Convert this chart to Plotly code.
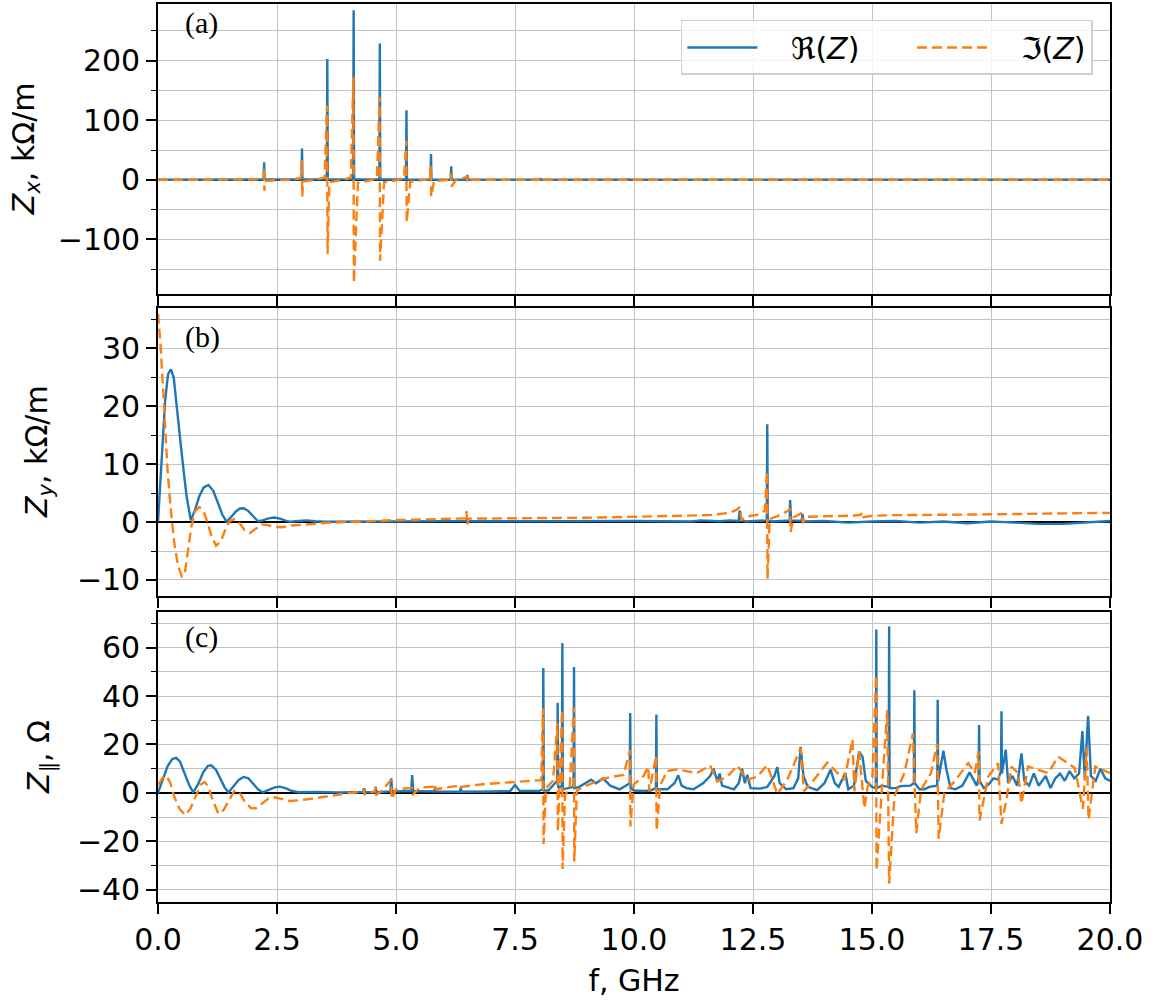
import plotly.graph_objects as go

# ---------------- data (f in GHz, value) ----------------
# Panel (a): Z_x, kOhm/m
re_a = [(0, 0), (2.22, 0.5), (2.23, 29.5), (2.24, 0.5), (3.015, 0.5), (3.025, 52.4), (3.035, 0.5),
        (3.547, 0.8), (3.557, 202.6), (3.567, 0.8), (4.10, 1.0), (4.11, 284.7), (4.12, 1.0),
        (4.65, 0.8), (4.66, 228.8), (4.67, 0.8), (5.21, 0.5), (5.22, 116.6), (5.23, 0.5),
        (5.725, 0.3), (5.735, 43.5), (5.745, 0.3), (6.15, 0.2), (6.16, 22.8), (6.17, 0.2),
        (6.45, 0.2), (6.46, 4.0), (6.47, 0.2), (6.49, 0.2), (6.50, 8.4), (6.51, 0.2),
        (8.02, 0.1), (8.03, 3.0), (8.04, 0.1), (9.85, 0), (9.86, 2.5), (9.87, 0),
        (10.35, 0), (10.36, 2.0), (10.37, 0), (20, 0)]
im_a = [(0, 0), (2.0, 0.5), (2.215, 2), (2.225, 21), (2.235, -18.4), (2.25, -2), (2.5, -0.5), (2.8, 0.5),
        (3.0, 3), (3.02, 33), (3.03, -28), (3.05, -3), (3.3, 0), (3.5, 4), (3.552, 124.5), (3.562, -124.6),
        (3.6, -4), (3.9, 0), (4.05, 4), (4.105, 173), (4.115, -173), (4.2, -5), (4.45, -1), (4.6, 3),
        (4.655, 139.5), (4.665, -135.7), (4.75, -4), (5.0, -1), (5.17, 3), (5.215, 65.3), (5.225, -71),
        (5.3, -3), (5.6, 0), (5.72, 2), (5.73, 23.4), (5.74, -28), (5.8, -2), (6.1, 0), (6.155, 11),
        (6.165, -11.2), (6.25, -1), (6.45, 3), (6.495, 5), (6.505, -5), (6.6, 0), (8.0, 0), (8.025, 2),
        (8.035, -2), (8.1, 0), (20, 0)]

# Panel (b): Z_y, kOhm/m
re_b = [(0, 0), (0.08, 12), (0.15, 21), (0.21, 25.5), (0.27, 26.4), (0.33, 25), (0.40, 20), (0.47, 14),
        (0.53, 9.5), (0.60, 4.5), (0.69, 0.3), (0.78, 2.2), (0.87, 4.5), (0.96, 6.0), (1.06, 6.4),
        (1.16, 5.4), (1.26, 3.3), (1.35, 1.3), (1.44, 0.1), (1.53, 0.8), (1.63, 1.8), (1.72, 2.35),
        (1.80, 2.4), (1.90, 1.9), (2.0, 1.0), (2.1, 0.15), (2.2, 0.3), (2.32, 0.65), (2.44, 0.8),
        (2.56, 0.6), (2.68, 0.25), (2.78, 0.05), (2.95, 0.2), (3.12, 0.3), (3.3, 0.15), (3.5, 0.05),
        (5.0, 0.1), (6.0, 0.15), (6.48, 0.2), (6.49, 0.8), (6.5, 0.15), (8.0, 0.15), (10.0, 0.2),
        (11.2, 0.1), (11.4, 0.3), (11.8, 0.15), (12.0, 0.3), (12.2, 0.2), (12.22, 2.0), (12.26, 0.3),
        (12.35, 0.1), (12.79, 0.3), (12.80, 16.9), (12.81, 0.3), (12.9, 0.1), (13.27, 0.3), (13.28, 3.8),
        (13.30, 0.3), (13.52, 0.2), (13.54, 1.4), (13.56, 0.1), (14.0, 0.2), (14.5, -0.1), (15.0, 0.1),
        (15.5, 0.2), (16.0, -0.1), (16.5, 0.1), (17.0, -0.2), (17.5, 0.1), (17.8, 0.0), (18.5, -0.3),
        (19.0, -0.3), (19.5, -0.1), (20, 0.2)]
im_b = [(0, 36), (0.05, 31), (0.1, 24), (0.15, 16), (0.2, 9), (0.27, 2), (0.34, -3.5), (0.42, -7.5),
        (0.5, -9.4), (0.56, -9.0), (0.62, -5.5), (0.7, -0.8), (0.78, 1.9), (0.87, 2.6), (0.95, 2.0),
        (1.03, 0.2), (1.12, -2.3), (1.22, -4.1), (1.32, -3.3), (1.42, -1.2), (1.5, 0.1), (1.6, 0.5),
        (1.7, 0.0), (1.82, -1.4), (1.93, -1.9), (2.05, -1.2), (2.18, -0.4), (2.3, -0.5), (2.45, -0.85),
        (2.6, -0.9), (2.8, -0.6), (3.2, -0.35), (3.6, -0.1), (4.0, 0), (4.5, 0.2), (5.0, 0.35),
        (5.5, 0.45), (6.0, 0.55), (6.46, 0.65), (6.48, 1.9), (6.5, -0.4), (6.52, 0.6), (7.0, 0.6),
        (8.0, 0.7), (9.0, 0.75), (10.0, 0.9), (10.5, 0.95), (11.0, 1.0), (11.6, 1.2), (12.0, 1.6),
        (12.15, 2.1), (12.22, 2.6), (12.26, 0.4), (12.4, 1.0), (12.6, 1.3), (12.75, 2.0), (12.795, 8.8),
        (12.805, -9.8), (12.85, 0.5), (13.0, 1.0), (13.25, 2.0), (13.275, 2.3), (13.29, -1.7), (13.35, 0.8),
        (13.5, 1.4), (13.53, 1.6), (13.55, -0.2), (13.6, 0.9), (14.0, 1.0), (14.6, 1.1), (14.77, 1.3),
        (14.78, 1.6), (14.79, 0.8), (15.0, 1.1), (15.5, 1.2), (16.0, 1.2), (16.5, 1.3), (17.0, 1.3),
        (17.5, 1.35), (18.0, 1.4), (18.5, 1.5), (19.0, 1.5), (19.5, 1.55), (20.0, 1.6)]

# Panel (c): Z_parallel, Ohm
re_c = [(0, 0), (0.1, 5.5), (0.2, 11), (0.3, 14), (0.38, 14.5), (0.46, 13), (0.55, 8.5), (0.65, 3.5),
        (0.74, 0.2), (0.84, 3.5), (0.95, 8.5), (1.05, 11.2), (1.12, 11.4), (1.22, 9.5), (1.32, 5.5),
        (1.40, 2.3), (1.48, 0.2), (1.58, 2.6), (1.7, 5.5), (1.8, 6.6), (1.9, 6.0), (2.0, 3.8), (2.1, 1.5),
        (2.2, 0.2), (2.32, 1.2), (2.45, 2.3), (2.56, 2.6), (2.68, 2.0), (2.8, 0.9), (2.95, 0.3), (3.3, 0.4),
        (3.8, 0.2), (4.3, 0.4), (4.33, 1.9), (4.36, 0.3), (4.55, 0.4), (4.57, 2.5), (4.59, 0.3), (4.88, 0.6),
        (4.9, 6.0), (4.92, 0.6), (5.32, 0.8), (5.34, 7.4), (5.36, 0.8), (5.8, 0.6), (5.82, 2.5), (5.84, 0.6),
        (6.34, 0.5), (6.36, 2.0), (6.38, 0.5), (7.0, 0.6), (7.4, 0.8), (7.5, 3.3), (7.6, 0.8), (8.0, 0.8),
        (8.085, 1.5), (8.095, 51.6), (8.105, 1.0), (8.2, 1.0), (8.3, 3), (8.387, 5), (8.397, 37.2),
        (8.407, 2), (8.485, 3), (8.495, 61.9), (8.505, 1.5), (8.6, 2), (8.73, 2.5), (8.74, 52), (8.75, 2),
        (8.85, 2.5), (9.0, 4.5), (9.1, 5.5), (9.2, 4), (9.35, 6), (9.5, 3), (9.7, 1.5), (9.91, 4),
        (9.92, 33), (9.93, 2), (10.0, 1), (10.2, 0.8), (10.35, 1), (10.46, 2), (10.47, 32.4), (10.48, 1.5),
        (10.7, 1.5), (10.85, 4), (10.93, 7.3), (11.0, 3), (11.1, 2), (11.25, 1.5), (11.45, 4), (11.6, 7),
        (11.67, 10), (11.75, 5), (11.8, 8), (11.85, 3), (11.95, 2.5), (12.1, 1.5), (12.2, 4), (12.27, 10),
        (12.33, 4), (12.38, 7.5), (12.45, 2), (12.65, 1.8), (12.8, 2.5), (12.95, 7), (13.01, 10.7),
        (13.06, 4), (13.2, 1.5), (13.35, 2), (13.45, 6), (13.5, 19), (13.56, 7), (13.65, 2.5), (13.85, 1.2),
        (14.0, 4), (14.13, 9.6), (14.22, 4), (14.3, 2.5), (14.44, 8.2), (14.5, 1.5), (14.62, 3),
        (14.73, 17), (14.8, 15), (14.87, 5), (15.0, 2.5), (15.08, 2), (15.09, 67.4), (15.1, 2), (15.2, 3),
        (15.35, 2.5), (15.36, 68.7), (15.37, 2), (15.5, 2), (15.6, 2.8), (15.8, 3), (15.88, 4),
        (15.89, 42.4), (15.9, 4), (16.0, 1.5), (16.1, 1.5), (16.2, 2.5), (16.37, 3), (16.38, 38.5),
        (16.39, 5), (16.45, 12), (16.5, 17.4), (16.56, 10), (16.65, 2), (16.75, 1.5), (16.9, 3),
        (17.05, 8.5), (17.12, 6), (17.2, 3), (17.24, 6), (17.25, 28), (17.26, 5), (17.35, 2), (17.45, 3.5),
        (17.55, 6), (17.65, 5.5), (17.71, 9), (17.72, 33.7), (17.73, 8), (17.81, 17.8), (17.86, 4),
        (17.95, 7), (18.05, 3), (18.14, 16.3), (18.2, 5), (18.3, 3), (18.4, 8), (18.5, 3), (18.65, 7),
        (18.75, 2), (18.85, 6), (18.95, 8), (19.05, 5), (19.15, 9), (19.25, 6), (19.35, 8), (19.42, 25.5),
        (19.47, 6), (19.54, 31.8), (19.6, 7), (19.7, 5), (19.8, 10), (19.9, 6), (20.0, 5)]
im_c = [(0, 3.3), (0.1, 6.3), (0.18, 7.0), (0.26, 4), (0.34, -1.5), (0.45, -6.5), (0.57, -9.1),
        (0.68, -6.5), (0.8, -1), (0.9, 3.5), (0.98, 4.5), (1.06, 2.5), (1.15, -3), (1.27, -8.6),
        (1.38, -7), (1.5, -2.5), (1.6, 0.8), (1.7, 0.5), (1.82, -3.5), (1.95, -6.2), (2.05, -6.3),
        (2.18, -4.5), (2.32, -2.2), (2.45, -1.8), (2.6, -2.6), (2.77, -3.3), (3.0, -3.0), (3.32, -2.2),
        (3.7, -1.0), (4.02, 0), (4.32, 0.5), (4.33, 1.5), (4.34, -0.5), (4.56, 0.8), (4.57, 2.5),
        (4.58, -1), (4.72, 1.2), (4.89, 5.3), (4.91, -2.6), (5.0, 1.5), (5.33, 2.0), (5.35, -0.8),
        (5.5, 2.2), (5.77, 2.6), (5.81, 3.8), (5.83, 1.5), (6.3, 3.0), (6.35, 3.5), (6.37, 2.5),
        (6.82, 3.6), (7.2, 4.2), (7.52, 4.7), (7.8, 5.0), (8.05, 5.3), (8.09, 34.8), (8.10, -21.1),
        (8.15, 2), (8.3, 5), (8.39, 28.9), (8.40, -15.9), (8.44, 5), (8.49, 34.2), (8.50, -31.4),
        (8.55, -1), (8.65, 2.5), (8.735, 35.3), (8.745, -28.3), (8.8, 1), (9.0, 3), (9.29, 5.4),
        (9.5, 6.5), (9.78, 7.4), (9.915, 17.7), (9.925, -13.8), (9.99, 3.4), (10.2, 7), (10.30, 10.9),
        (10.32, 0.7), (10.465, 15.4), (10.475, -15.5), (10.55, 3), (10.69, 9.0), (10.90, 9.7),
        (11.11, 9.0), (11.32, 8.2), (11.60, 11.3), (11.75, 4.7), (11.96, 6.7), (12.17, 11.3),
        (12.38, 5.4), (12.59, 6.7), (12.80, 11.5), (13.01, -0.4), (13.22, 5.4), (13.50, 18.4),
        (13.57, 0.7), (13.78, 5.4), (14.06, 12.5), (14.28, 8.2), (14.42, 5.4), (14.59, 22.1),
        (14.63, 0.7), (14.73, 17.1), (14.84, -6.3), (14.91, 2.6), (15.01, 6.7), (15.085, 48.6),
        (15.095, -32), (15.22, 5.4), (15.32, 34.2), (15.36, -37.4), (15.47, -1.4), (15.68, 8.2),
        (15.86, 24.5), (15.93, -16.6), (16.03, 1.3), (16.24, 8.2), (16.37, 20.4), (16.40, -18.9),
        (16.52, 0), (16.73, 4.7), (17.02, 12.3), (17.16, 8.2), (17.24, 17.1), (17.26, -11.4),
        (17.44, 6.7), (17.65, 12.3), (17.72, -12.8), (17.82, -3.4), (17.93, 10.9), (18.07, 8.2),
        (18.14, -4.4), (18.28, 10.9), (18.49, 9.7), (18.70, 8.2), (18.91, 15.0), (19.12, 12.3),
        (19.26, 10.3), (19.43, -6.6), (19.51, 18.4), (19.55, -11.0), (19.69, 10.9), (19.83, 9.7),
        (20.0, 8.2)]

x_ticks = [0, 2.5, 5, 7.5, 10, 12.5, 15, 17.5, 20]
x_ticktext = ["0.0", "2.5", "5.0", "7.5", "10.0", "12.5", "15.0", "17.5", "20.0"]
panel_labels = ["(a)", "(b)", "(c)"]
y_titles = ["<i>Z<sub>x</sub></i>, kΩ/m", "<i>Z<sub>y</sub></i>, kΩ/m", "<i>Z</i><sub>∥</sub>, Ω"]
legend_names = ["ℜ(<i>Z</i>)", "ℑ(<i>Z</i>)"]

# ---------------- figure ----------------
BLUE = "#1f77b4"
ORANGE = "#ff7f0e"
FONT = "DejaVu Sans"
GRID = "#c4c4c4"
LEAD = "\u00a0" * 3   # gap between legend line sample and its text
PAD = "\u00a0" * 5    # spacing between legend entries
W, HGT = 1166, 1003
L, R = 158, 56

fig = go.Figure()
panels = [(re_a, im_a), (re_b, im_b), (re_c, im_c)]
for i, (re, im) in enumerate(panels):
    sfx = "" if i == 0 else str(i + 1)
    fig.add_trace(go.Scatter(x=[p[0] for p in re], y=[p[1] for p in re], mode="lines",
                             line=dict(color=BLUE, width=2.4), name=LEAD + legend_names[0] + PAD,
                             showlegend=(i == 0), xaxis="x" + sfx, yaxis="y" + sfx))
    fig.add_trace(go.Scatter(x=[p[0] for p in im], y=[p[1] for p in im], mode="lines",
                             line=dict(color=ORANGE, width=2.4, dash="10px,5px"),
                             name=LEAD + legend_names[1],
                             showlegend=(i == 0), xaxis="x" + sfx, yaxis="y" + sfx))

H_TOP, H_BOT = 2, 902.3
HH = H_BOT - H_TOP
def dom(t, b):
    return [(H_BOT - b) / HH, (H_BOT - t) / HH]

panel_px = [(2, 293), (306.7, 595.7), (611.7, 902.3)]
y_domains = [dom(t, b) for t, b in panel_px]
y_ranges = [[-192, 295], [-12.8, 37], [-45, 74.6]]
y_dticks = [100, 10, 20]
title_cx = [25, 38, 40]  # pixel x of the rotated y-title centres

common_axis = dict(showline=True, linecolor="black", linewidth=1.6, mirror=True,
                   ticks="outside", ticklen=10, tickwidth=1.5, tickcolor="black",
                   showgrid=True, gridcolor=GRID, gridwidth=1,
                   tickfont=dict(family=FONT, size=30, color="black"))

layout = dict(width=W, height=HGT, plot_bgcolor="white", paper_bgcolor="white",
              margin=dict(l=L, r=R, t=2, b=101), showlegend=True,
              font=dict(family=FONT, size=30, color="black"))
for i in range(3):
    sfx = "" if i == 0 else str(i + 1)
    layout["xaxis" + sfx] = dict(common_axis, range=[0, 20], tickvals=x_ticks, ticktext=x_ticktext,
                                 showticklabels=(i == 2), anchor="y" + sfx, zeroline=False,
                                 **({} if i == 0 else {"matches": "x"}))
    layout["yaxis" + sfx] = dict(common_axis, range=y_ranges[i], domain=y_domains[i], anchor="x" + sfx,
                                 dtick=y_dticks[i], tick0=0,
                                 zeroline=True, zerolinecolor="black", zerolinewidth=1.6,
                                 minor=dict(dtick=y_dticks[i] / 2, tick0=0, ticks="outside", ticklen=5,
                                            tickwidth=1.2, tickcolor="black", showgrid=True,
                                            gridcolor=GRID, gridwidth=1))
layout["xaxis3"]["title"] = dict(text="f, GHz", font=dict(family=FONT, size=30), standoff=14)

fig.update_layout(**layout)

fig.update_layout(legend=dict(orientation="h", x=0.982, y=(H_BOT - 18) / HH,
                              xanchor="right", yanchor="top",
                              bgcolor="rgba(255,255,255,0.8)", bordercolor="#d0d0d0", borderwidth=1.5,
                              font=dict(family=FONT, size=30), itemwidth=70))

# y-axis titles (rotated)
PW = W - L - R
for i in range(3):
    t, b = panel_px[i]
    fig.add_annotation(text=y_titles[i], xref="paper", yref="paper",
                       x=(title_cx[i] - L) / PW, y=(H_BOT - (t + b) / 2) / HH,
                       xanchor="center", yanchor="middle", textangle=-90, showarrow=False,
                       font=dict(family=FONT, size=30, color="black"))

label_y = [21.5, 336, 636.7]
for i, lab in enumerate(panel_labels):
    fig.add_annotation(text=lab, xref="paper", yref="paper", x=(183 - L) / PW,
                       y=(H_BOT - label_y[i]) / HH, xanchor="left", yanchor="middle",
                       showarrow=False, font=dict(family="Liberation Serif", size=30, color="black"))

fig.write_html("out.html", config={"displayModeBar": False},
               post_script="document.body.style.margin='0px';")
